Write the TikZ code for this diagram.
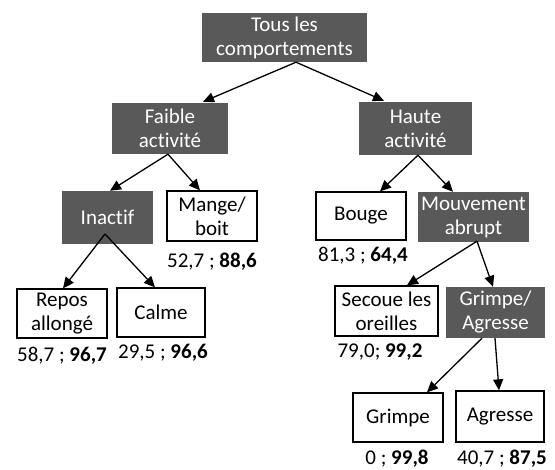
\documentclass[tikz,border=0pt]{standalone}
\usepackage{fontspec}
\setmainfont{Carlito}[Ligatures={NoCommon}]
\usetikzlibrary{arrows.meta,calc}
\definecolor{darkbox}{HTML}{595959}
\begin{document}
\begin{tikzpicture}[x=1pt,y=-1pt,
  txt/.style={font=\fontsize{21}{24}\selectfont},
  wbox/.style={txt,draw=black,line width=1.3pt,fill=white,inner sep=0pt,align=center},
  dbox/.style={txt,fill=darkbox,text=white,inner sep=0pt,align=center},
  lab/.style={txt,inner sep=0pt},
  arr/.style={line width=1.3pt,-{Triangle[length=11pt,width=10pt]}}]
\useasboundingbox (0,0) rectangle (555,470);
\node[dbox,minimum width=165pt,minimum height=49pt] (top) at (284.5,37.5) {Tous les\\comportements};
\node[dbox,minimum width=116pt,minimum height=51pt] (faible) at (170,128.5) {Faible\\activité};
\node[dbox,minimum width=113pt,minimum height=53pt] (haute) at (415.5,128.5) {Haute\\activité};
\node[dbox,minimum width=91pt,minimum height=53pt] (inactif) at (107.5,217.5) {Inactif};
\node[wbox,minimum width=90pt,minimum height=50pt] (mange) at (212,216) {Mange/\\boit};
\node[wbox,minimum width=90pt,minimum height=48pt] (bouge) at (361,216) {Bouge};
\node[dbox,minimum width=111pt,minimum height=50pt] (mouv) at (473.5,217) {Mouvement\\abrupt};
\node[wbox,minimum width=90pt,minimum height=49pt] (repos) at (62,313.5) {Repos\\allongé};
\node[wbox,minimum width=88pt,minimum height=49pt] (calme) at (161,312.5) {Calme};
\node[wbox,minimum width=103pt,minimum height=50pt] (secoue) at (386.5,311) {Secoue les\\oreilles};
\node[dbox,minimum width=99pt,minimum height=51pt] (grimpag) at (495.5,312.5) {Grimpe/\\Agresse};
\node[wbox,minimum width=90pt,minimum height=49pt] (grimpe) at (398,417.5) {Grimpe};
\node[wbox,minimum width=88pt,minimum height=51pt] (agresse) at (500,416.5) {Agresse};

\node[lab] (lmange) at (212,262) {52,7 ; \textbf{88,6}};
\node[lab] (lrepos) at (62,356) {58,7 ; \textbf{96,7}};
\node[lab] (lcalme) at (163,353) {29,5 ; \textbf{96,6}};
\node[lab] (lbouge) at (363,256) {81,3 ; \textbf{64,4}};
\node[lab] (lsecoue) at (380,352) {79,0; \textbf{99,2}};
\node[lab] (lgrimpe) at (397,459) {0 ; \textbf{99,8}};
\node[lab] (lagresse) at (502,459) {40,7 ; \textbf{87,5}};

\draw[arr] ($(top.south)+(11.5,0)$) -- ($(faible.north)+(33,-1)$);
\draw[arr] ($(top.south)+(11.5,0)$) -- ($(haute.north)+(-31.5,-1)$);
\draw[arr] ($(faible.south)+(-2,0)$) -- ($(inactif.north)+(2.5,0)$);
\draw[arr] ($(faible.south)+(-2,0)$) -- ($(mange.north)+(-12,0)$);
\draw[arr] ($(inactif.center)+(-2.5,16.5)$) -- ($(repos.north)+(1,0)$);
\draw[arr] ($(inactif.center)+(-2.5,16.5)$) -- ($(calme.north)+(-6,0)$);
\draw[arr] ($(haute.south)+(2.5,0)$) -- ($(bouge.north)+(19,0)$);
\draw[arr] ($(haute.south)+(2.5,0)$) -- ($(mouv.north)+(-20.5,0)$);
\draw[arr] ($(mouv.south)+(3.5,-1)$) -- ($(secoue.north)+(20.5,0)$);
\draw[arr] ($(mouv.south)+(3.5,-1)$) -- ($(grimpag.north)+(-2.5,0)$);
\draw[arr] ($(grimpag.south)+(-13.5,0)$) -- ($(grimpe.north)+(29,0)$);
\draw[arr] ($(grimpag.south)+(-0.5,0)$) -- ($(agresse.north)+(-1,0)$);
\end{tikzpicture}
\end{document}
